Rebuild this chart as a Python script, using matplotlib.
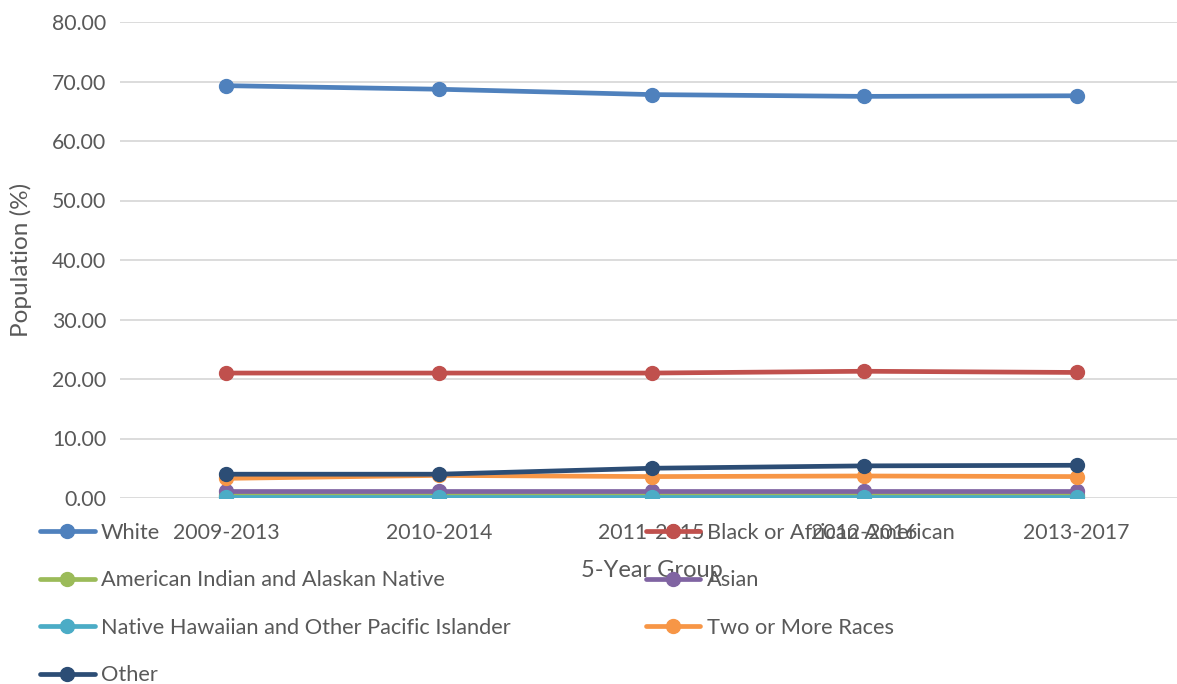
import matplotlib
matplotlib.use("Agg")
import matplotlib.pyplot as plt

categories = ["2009-2013", "2010-2014", "2011-2015", "2012-2016", "2013-2017"]
white = [69.3, 68.7, 67.8, 67.5, 67.6]
black = [21.0, 21.0, 21.0, 21.3, 21.1]
am_indian = [0.5, 0.5, 0.5, 0.5, 0.5]
asian = [1.2, 1.2, 1.2, 1.2, 1.2]
hawaiian = [0.1, 0.1, 0.1, 0.1, 0.1]
two_or_more = [3.3, 3.8, 3.6, 3.7, 3.6]
other = [4.0, 4.0, 5.0, 5.4, 5.5]

series = [
    ("White", white, "#4F81BD"),
    ("Black or African American", black, "#C0504D"),
    ("American Indian and Alaskan Native", am_indian, "#9BBB59"),
    ("Asian", asian, "#8064A2"),
    ("Native Hawaiian and Other Pacific Islander", hawaiian, "#4BACC6"),
    ("Two or More Races", two_or_more, "#F79646"),
    ("Other", other, "#2C4D75"),
]

plt.rcParams['font.family'] = ['Lato', 'DejaVu Sans']
txt = "#595959"

fig = plt.figure(figsize=(11.77, 6.84), dpi=100)
ax = fig.add_axes([120/1177, 1-498/684, 1063/1177, 476/684])

x = list(range(len(categories)))
handles = {}
for i, (name, vals, col) in enumerate(series):
    h, = ax.plot(x, vals, color=col, lw=3.4, marker='o', ms=10, label=name,
                 zorder=3+i, solid_capstyle='round')
    handles[name] = h

ax.set_xlim(-0.5, 4.5)
ax.set_ylim(0, 80)
ax.set_yticks(range(0, 81, 10))
ax.set_yticklabels([f"{v:.2f}" for v in range(0, 81, 10)])
ax.set_xticks(x)
ax.set_xticklabels(categories)
ax.grid(axis='y', color='#D9D9D9', lw=1.3)
ax.set_axisbelow(True)
for s in ax.spines.values():
    s.set_visible(False)
ax.tick_params(axis='both', length=0, labelsize=15.3, colors=txt, pad=10)
ax.tick_params(axis='x', pad=18)
ax.set_ylabel("Population (%)", fontsize=17.5, color=txt, labelpad=14)
ax.set_xlabel("5-Year Group", fontsize=17, color=txt, labelpad=12)

order = ["White", "American Indian and Alaskan Native",
         "Native Hawaiian and Other Pacific Islander", "Other",
         "Black or African American", "Asian", "Two or More Races"]
leg = fig.legend([handles[n] for n in order], order, ncol=2,
                 loc='upper left', bbox_to_anchor=(40/1177, 1-523/684),
                 frameon=False, fontsize=15.7, handlelength=2.5,
                 handletextpad=0.3, columnspacing=6.2, labelspacing=1.26,
                 borderaxespad=0, borderpad=0)
for t in leg.get_texts():
    t.set_color(txt)

fig.savefig("out.png", dpi=100)
